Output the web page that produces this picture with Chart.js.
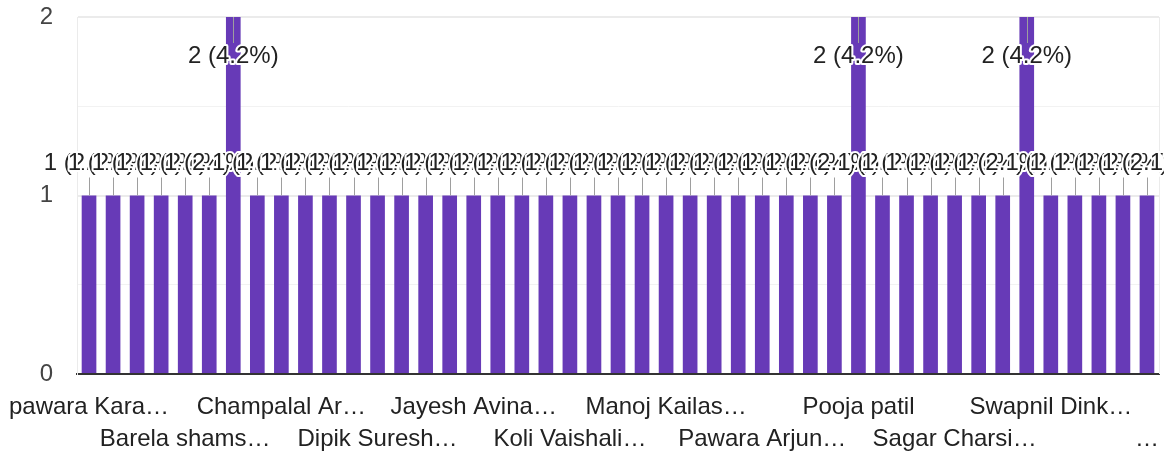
<!DOCTYPE html>
<html>
<head>
<meta charset="utf-8">
<script src="https://cdn.jsdelivr.net/npm/chart.js@4.4.1/dist/chart.umd.min.js"></script>
<style>
  html, body { margin: 0; padding: 0; background: #fff; }
  #wrap { width: 1164px; height: 452px; }
</style>
</head>
<body>
<div id="wrap"><canvas id="chart"></canvas></div>
<script>
// only every 4th name is readable in the picture, the rest stay blank
const categories = [
  'pawara Kara…', '', '', '', 'Barela shams…', '', '', '', 'Champalal Ar…', '', '', '',
  'Dipik Suresh…', '', '', '', 'Jayesh Avina…', '', '', '', 'Koli Vaishali…', '', '', '',
  'Manoj Kailas…', '', '', '', 'Pawara Arjun…', '', '', '', 'Pooja patil', '', '', '',
  'Sagar Charsi…', '', '', '', 'Swapnil Dink…', '', '', '', '…'
];
const counts = [
  1, 1, 1, 1, 1, 1, 2, 1, 1, 1, 1, 1,
  1, 1, 1, 1, 1, 1, 1, 1, 1, 1, 1, 1,
  1, 1, 1, 1, 1, 1, 1, 1, 2, 1, 1, 1,
  1, 1, 1, 2, 1, 1, 1, 1, 1
];
const yMax = 2;
const yStep = 0.5;

const font = "'Liberation Sans', Arial, sans-serif";
const purple = '#673ab7';

const rightBorder = {
  id: 'rightBorder',
  beforeDatasetsDraw(chart) {
    const { ctx, chartArea } = chart;
    ctx.save();
    ctx.strokeStyle = '#ebebeb';
    ctx.lineWidth = 1;
    ctx.beginPath();
    ctx.moveTo(chartArea.right + 0.5, chartArea.top);
    ctx.lineTo(chartArea.right + 0.5, chartArea.bottom);
    ctx.stroke();
    ctx.restore();
  }
};

const barLabels = {
  id: 'barLabels',
  afterDatasetsDraw(chart) {
    const { ctx, chartArea } = chart;
    const bars = chart.getDatasetMeta(0).data;
    const total = counts.reduce((a, b) => a + b, 0);
    const spots = bars.map(bar => {
      if (bar.y - 45 > chartArea.top) {
        return { x: bar.x, y: bar.y - 32, s0: bar.y - 18, s1: bar.y };
      }
      return { x: bar.x, y: bar.y + 39, s0: bar.y, s1: bar.y + 26 };
    });

    ctx.save();
    ctx.strokeStyle = '#9e9e9e';
    ctx.lineWidth = 1;
    spots.forEach(p => {
      const x = Math.round(p.x) + 0.5;
      ctx.beginPath();
      ctx.moveTo(x, p.s0);
      ctx.lineTo(x, p.s1);
      ctx.stroke();
    });

    ctx.font = '24px ' + font;
    ctx.textAlign = 'center';
    ctx.textBaseline = 'middle';
    ctx.lineJoin = 'round';
    spots.forEach((p, i) => {
      const text = `${counts[i]} (${(counts[i] / total * 100).toFixed(1)}%)`;
      ctx.lineWidth = 4;
      ctx.strokeStyle = '#fff';
      ctx.strokeText(text, p.x, p.y);
      ctx.fillStyle = '#222';
      ctx.fillText(text, p.x, p.y);
    });
    ctx.restore();
  }
};

new Chart(document.getElementById('chart'), {
  type: 'bar',
  data: {
    labels: categories,
    datasets: [{
      data: counts,
      backgroundColor: purple,
      barPercentage: 0.61,
      categoryPercentage: 1
    }]
  },
  options: {
    responsive: true,
    maintainAspectRatio: false,
    animation: false,
    layout: { padding: { top: 17, right: 5, left: 0, bottom: 0 } },
    plugins: {
      legend: { display: false },
      tooltip: { enabled: false }
    },
    scales: {
      x: {
        grid: { display: false },
        border: { display: true, color: '#333', width: 2 },
        ticks: {
          autoSkip: false,
          maxRotation: 0,
          minRotation: 0,
          padding: 9,
          color: '#222',
          font: { family: font, size: 24, lineHeight: 1.333 },
          callback(value, index) {
            const label = this.getLabelForValue(value);
            if (!label) return '';
            return (index / 4) % 2 ? ['', label] : label;
          }
        },
        afterFit(scale) {
          scale.height = 78;
          scale.paddingLeft = 0;
          scale.paddingRight = 0;
        }
      },
      y: {
        min: 0,
        max: yMax,
        grid: {
          drawTicks: false,
          color: c => c.tick.value === 0 ? 'rgba(0,0,0,0)' : (Number.isInteger(c.tick.value) ? '#ebebeb' : '#f2f2f2'),
          lineWidth: c => Number.isInteger(c.tick.value) ? 2 : 1
        },
        border: { display: true, color: '#ebebeb', width: 1 },
        ticks: {
          stepSize: yStep,
          padding: 24,
          color: '#444',
          font: { family: font, size: 24 },
          callback: v => Number.isInteger(v) ? v : ''
        },
        afterFit(scale) {
          scale.width = 77;
          scale.paddingTop = 0;
          scale.paddingBottom = 0;
        }
      }
    }
  },
  plugins: [rightBorder, barLabels]
});
</script>
</body>
</html>
